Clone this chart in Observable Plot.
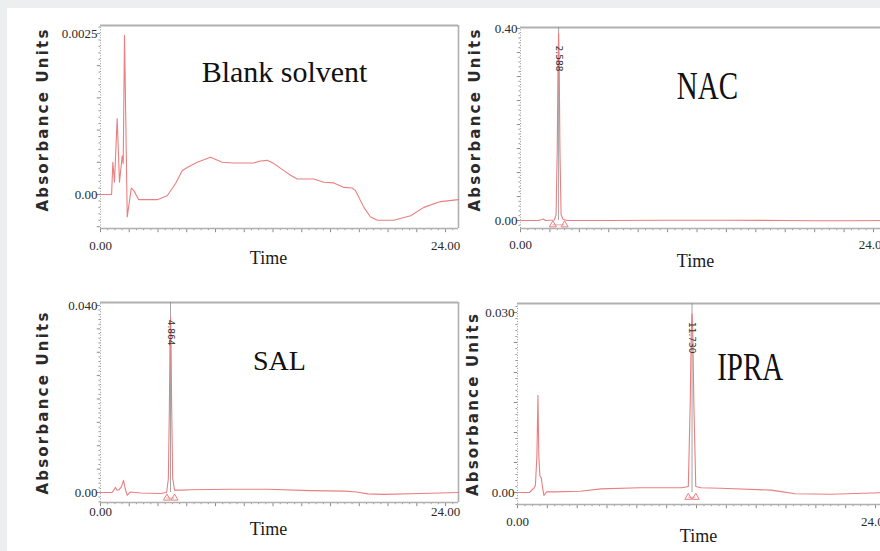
<!DOCTYPE html>
<html><head><meta charset="utf-8">
<script src="https://cdn.jsdelivr.net/npm/d3@7"></script>
<script src="https://cdn.jsdelivr.net/npm/@observablehq/plot@0.6"></script>
<style>
html,body{margin:0;padding:0;width:880px;height:551px;overflow:hidden;background:#eceef0;}
#page{position:absolute;left:7px;top:8px;width:873px;height:543px;background:#fff;}
.panel{position:absolute;}
</style></head><body>
<div id="page"></div>
<div id="p1" class="panel" style="left:0;top:0;width:462px;height:278px"></div>
<div id="p2" class="panel" style="left:462px;top:0;width:430px;height:278px"></div>
<div id="p3" class="panel" style="left:0;top:280px;width:462px;height:271px"></div>
<div id="p4" class="panel" style="left:462px;top:280px;width:430px;height:271px"></div>
<script>
// ---- data (time in min, absorbance in AU) ----
const blankTime = [0,0.77,0.86,0.97,1.16,1.32,1.51,1.58,1.67,1.86,2.14,2.32,2.66,3.94,4.64,5.22,5.68,6.03,6.73,7.65,8.47,9.27,10.66,11.13,11.6,12.06,12.75,13.22,13.68,14.84,15.53,16.23,16.93,17.51,17.74,18.32,18.78,19.25,20.4,21.57,22.49,23.65,24.9];
const blankAbs = [0,0,0.0005,0.00019,0.00118,0.00019,0.0006,0.00048,0.00247,-0.00035,0.0001,0.00006,-0.00008,-0.00008,-0.00002,0.00017,0.00037,0.00042,0.0005,0.00058,0.0005,0.00049,0.00049,0.00052,0.00053,0.00048,0.00037,0.0003,0.00024,0.00024,0.00019,0.00018,0.00011,0.0001,0.00006,-0.0002,-0.00035,-0.0004,-0.0004,-0.00033,-0.0002,-0.00011,-0.00008];

const nacTime = [0,1.2,1.45,1.55,1.7,2.3,2.42,2.5,2.55,2.59,2.63,2.68,2.76,2.9,3.2,6,10,14,18,20,22,25];
const nacAbs = [0,0,0.002,0.003,0,0.001,0.012,0.15,0.33,0.39,0.33,0.15,0.012,0.002,0,0,0.0005,0.0005,0,-0.0005,-0.0005,0];

const salTime = [0,0.8,0.95,1.04,1.15,1.3,1.45,1.6,1.72,1.86,2.05,2.8,4.2,4.6,4.72,4.79,4.84,4.87,4.9,4.95,5.02,5.15,5.6,6.3,9,11.6,14.6,17,17.8,18.6,19.7,22.3,24.9];
const salAbs = [0,0,0.0006,0.0011,0.0005,0.0006,0.0012,0.0026,0.0008,-0.0006,0.0001,-0.0001,-0.0002,0,0.003,0.018,0.034,0.0375,0.034,0.018,0.003,0.0005,0.0005,0.0006,0.0007,0.0007,0.0004,0.0003,0.0001,-0.0003,-0.0004,-0.0002,0];

const ipraTime = [0,0.8,1.0,1.1,1.2,1.3,1.37,1.43,1.5,1.6,1.68,1.77,1.95,2.5,4.2,5.6,8.2,11.0,11.45,11.58,11.65,11.7,11.75,11.82,11.95,12.3,13.6,17,17.8,18.6,21,24.9];
const ipraAbs = [0,0,0.0005,0.0007,0.0012,0.006,0.0162,0.006,0.0028,0.0024,0.0008,-0.0005,0.0001,0.0001,0.0002,0.0006,0.0008,0.0008,0.001,0.015,0.027,0.0298,0.027,0.015,0.001,0.0008,0.0007,0.0004,0.0001,-0.0002,-0.0003,0];

const panelTitles = ["Blank solvent","NAC","SAL","IPRA"];
const yTopValues = [0.0025, 0.40, 0.040, 0.030];
const yTopLabels = ["0.0025","0.40","0.040","0.030"];
const yZeroLabel = "0.00";
const xTickValues = [0, 24];
const xTickLabels = ["0.00","24.00"];
const xAxisTitle = "Time";
const yAxisTitle = "Absorbance Units";
const peakTimes = [null, 2.59, 4.87, 11.70];
const peakLabels = [null, "2.588", "4.864", "11.730"];
const peakBounds = [null, [2.2, 3.0], [4.62, 5.15], [11.45, 11.95]];

const RED = "#e97f80";
const GRAY = "#b0b0b0";
const SERIF = "'Liberation Serif','Times New Roman',serif";
const SANS = "'DejaVu Sans',sans-serif";

const cfgs = [
  {id:"p1", w:462, h:278, mL:100, frameW:358, mT:25, mB:50, xMax:24.9, yMin:-0.000528, yMax:0.002624, yStep:0.0001,
   time:blankTime, abs:blankAbs, xLabDy:21, timeDy:35, timeDx:-11, yLabDx:-57, yLabDy:-7.5,
   title:{t:12.8, a:0.00174, size:30, sy:1}},
  {id:"p2", w:430, h:278, mL:58, frameW:368, mT:27, mB:50, xMax:25.02, yMin:-0.01667, yMax:0.402, yStep:0.01,
   time:nacTime, abs:nacAbs, xLabDy:20, timeDy:38, timeDx:-9, yLabDx:-45, yLabDy:-8.5,
   title:{t:12.71, a:0.254, size:29, sy:1.35}, peakY:0.3375, triY:-0.009},
  {id:"p3", w:462, h:271, mL:100, frameW:358, mT:22, mB:49, xMax:24.9, yMin:-0.00214, yMax:0.04064, yStep:0.001,
   time:salTime, abs:salAbs, xLabDy:13, timeDy:32, timeDx:-11, yLabDx:-57, yLabDy:0,
   title:{t:12.45, a:0.0261, size:28, sy:1}, peakY:0.0342, triY:-0.0012},
  {id:"p4", w:430, h:271, mL:55, frameW:371, mT:23, mB:47, xMax:24.87, yMin:-0.002, yMax:0.0315, yStep:0.001,
   time:ipraTime, abs:ipraAbs, xLabDy:21, timeDy:37, timeDx:-4.5, yLabDx:-44, yLabDy:0,
   title:{t:15.6, a:0.01867, size:29, sy:1.35}, peakY:0.0258, triY:-0.0008}
];

function build(c, i) {
  const mR = c.w - c.mL - c.frameW;
  const fh = c.h - c.mT - c.mB;
  const yPerPx = (c.yMax - c.yMin) / fh;
  const xPerPx = c.xMax / c.frameW;
  const rows = c.time.map((t, k) => ({t, a: c.abs[k]}));
  const yIdx = d3.range(Math.ceil(c.yMin / c.yStep), Math.floor(c.yMax / c.yStep + 1e-9) + 1);
  const yMinor = yIdx.filter(k => k % 5 !== 0).map(k => k * c.yStep);
  const yMajor = yIdx.filter(k => k % 5 === 0).map(k => k * c.yStep);
  const xIdx = d3.range(0, Math.floor(c.xMax / 0.5) + 1);
  const xMinor = xIdx.filter(k => k % 4 !== 0).map(k => k * 0.5);
  const xMajor = xIdx.filter(k => k % 4 === 0).map(k => k * 0.5);
  const yTitleX = c.yLabDx * xPerPx;
  const yTitleY = (c.yMin + c.yMax) / 2 - c.yLabDy * yPerPx;
  const marks = [
    // left edge (dotted)
    Plot.ruleX([0], {y1: c.yMin, y2: c.yMax, stroke: "#9a9a9a", strokeWidth: 1, strokeDasharray: "1,1.6"}),
    Plot.ruleY(yMinor, {x1: () => 0, x2: () => -1.6 * xPerPx, stroke: "#9a9a9a", strokeWidth: 1}),
    Plot.ruleY(yMajor, {x1: () => 0, x2: () => -3.2 * xPerPx, stroke: "#8a8a8a", strokeWidth: 1}),
    // x-axis ticks below frame
    Plot.ruleX(xMinor, {y1: () => c.yMin, y2: () => c.yMin - 2.2 * yPerPx, stroke: "#9a9a9a", strokeWidth: 1}),
    Plot.ruleX(xMajor, {y1: () => c.yMin, y2: () => c.yMin - 4.2 * yPerPx, stroke: "#8a8a8a", strokeWidth: 1}),
    // frame
    Plot.ruleY([c.yMax], {x1: 0, x2: c.xMax, stroke: GRAY, strokeWidth: 2.2}),
    Plot.ruleY([c.yMin], {x1: 0, x2: c.xMax, stroke: GRAY, strokeWidth: 1.6}),
    Plot.ruleX([c.xMax], {y1: c.yMin, y2: c.yMax, stroke: GRAY, strokeWidth: 1.6})
  ];
  if (peakTimes[i] != null) {
    marks.push(Plot.ruleX([peakTimes[i]], {y1: () => 0, y2: () => c.yMax, stroke: "#8c8c8c", strokeWidth: 0.8}));
  }
  marks.push(Plot.line(rows, {x: "t", y: "a", stroke: RED, strokeWidth: 1.1}));
  if (peakTimes[i] != null) {
    marks.push(Plot.dot(peakBounds[i], {x: d => d, y: () => c.triY, symbol: "triangle", r: 2.6, stroke: RED, fill: "none", strokeWidth: 1}));
    marks.push(Plot.ruleY([c.triY], {x1: () => peakBounds[i][0], x2: () => peakBounds[i][1], stroke: RED, strokeWidth: 0.7}));
    marks.push(Plot.text([peakLabels[i]], {x: () => peakTimes[i], y: () => c.peakY, text: d => d, rotate: 90,
      fontSize: 9, fontFamily: SANS, fill: "#333"}));
  }
  marks.push(
    Plot.text([0, yTopValues[i]], {x: () => 0, y: d => d, text: (d, k) => k === 0 ? yZeroLabel : yTopLabels[i],
      textAnchor: "end", dx: -3, fontFamily: SERIF, fontSize: 13, fill: "#2a2a2a"}),
    Plot.text(xTickValues, {x: d => d, text: (d, k) => xTickLabels[k], frameAnchor: "bottom", lineAnchor: "bottom",
      dy: c.xLabDy, fontFamily: SERIF, fontSize: 13, fill: "#2a2a2a"}),
    Plot.text([xAxisTitle], {text: d => d, frameAnchor: "bottom", lineAnchor: "bottom", dy: c.timeDy, dx: c.timeDx,
      fontFamily: SERIF, fontSize: 18, fill: "#1a1a1a"}),
    Plot.text([yAxisTitle], {x: () => yTitleX, y: () => yTitleY, text: d => d, rotate: -90,
      fontFamily: SANS, fontWeight: "bold", fontSize: 15, fill: "#2a2a2a"}),
    Plot.text([panelTitles[i]], {x: () => c.title.t, y: () => c.title.a, text: d => d, lineAnchor: "bottom",
      fontFamily: SERIF, fontSize: c.title.size, fill: "#111"})
  );
  const svg = Plot.plot({
    width: c.w, height: c.h,
    marginLeft: c.mL, marginRight: mR, marginTop: c.mT, marginBottom: c.mB,
    x: {domain: [0, c.xMax], axis: null},
    y: {domain: [c.yMin, c.yMax], axis: null},
    style: {background: "transparent", overflow: "visible", maxWidth: "none"},
    marks
  });
  svg.querySelectorAll("text").forEach(t => {
    const s = t.textContent;
    if (s === yAxisTitle) t.setAttribute("letter-spacing", "2.2");
    if (s === panelTitles[i] && c.title.sy !== 1) {
      const tr = t.getAttribute("transform");
      if (tr) t.setAttribute("transform", tr + ` scale(1,${c.title.sy})`);
      else {
        const x = +t.getAttribute("x") || 0, y = +t.getAttribute("y") || 0;
        t.removeAttribute("x"); t.removeAttribute("y");
        t.setAttribute("transform", `translate(${x},${y}) scale(1,${c.title.sy})`);
      }
    }
  });
  document.getElementById(c.id).appendChild(svg);
}
cfgs.forEach(build);
</script>
</body></html>
